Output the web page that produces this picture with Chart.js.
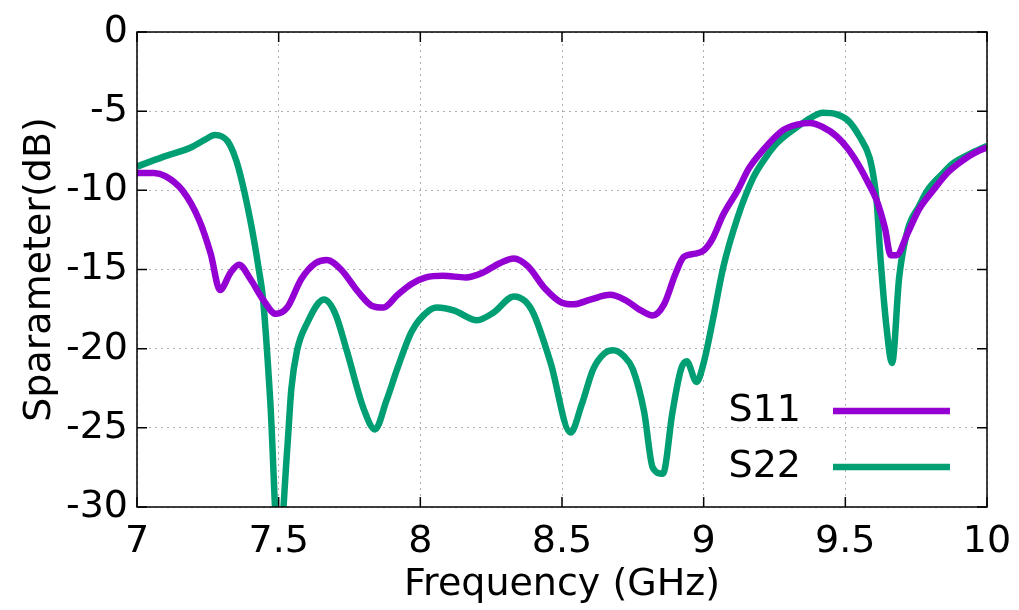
<!DOCTYPE html>
<html>
<head>
<meta charset="utf-8">
<script src="https://cdn.jsdelivr.net/npm/chart.js@4/dist/chart.umd.min.js"></script>
<style>
  html, body { margin: 0; padding: 0; background: #fff; }
  #wrap { width: 1019px; height: 610px; }
</style>
</head>
<body>
<div id="wrap"><canvas id="grafico" width="1019" height="610"></canvas></div>
<script>
// frequencies (GHz) and S-parameter values (dB)
const freqS11 = [7.00, 7.06, 7.10, 7.16, 7.22, 7.26, 7.293, 7.33, 7.36, 7.40, 7.445, 7.49, 7.53, 7.58, 7.63, 7.67,
  7.72, 7.78, 7.83, 7.87, 7.92, 7.97, 8.02, 8.08, 8.16, 8.22, 8.28, 8.33, 8.38, 8.44, 8.50, 8.54, 8.60, 8.67,
  8.72, 8.78, 8.82, 8.86, 8.90, 8.93, 8.97, 9.00, 9.03, 9.07, 9.12, 9.16, 9.21, 9.28, 9.33, 9.375, 9.42, 9.47,
  9.51, 9.55, 9.58, 9.61, 9.64, 9.66, 9.68, 9.72, 9.76, 9.81, 9.86, 9.915, 9.96, 10.00];
const s11 = [-8.9, -8.9, -9.1, -10.0, -11.9, -14.0, -16.3, -15.2, -14.7, -15.6, -16.9, -17.8, -17.4, -15.6, -14.6, -14.4,
  -15.0, -16.4, -17.3, -17.4, -16.6, -15.9, -15.5, -15.4, -15.5, -15.2, -14.6, -14.3, -14.8, -16.2, -17.1, -17.2, -16.9, -16.6,
  -16.9, -17.6, -17.9, -17.2, -15.3, -14.2, -14.0, -13.8, -13.1, -11.5, -10.0, -8.6, -7.45, -6.2, -5.85, -5.75, -6.0, -6.6,
  -7.4, -8.5, -9.5, -10.6, -12.4, -14.1, -14.1, -12.7, -11.2, -10.0, -8.9, -8.1, -7.6, -7.3];

const freqS22 = [7.00, 7.09, 7.19, 7.24, 7.275, 7.30, 7.32, 7.34, 7.36, 7.40, 7.43, 7.445, 7.47, 7.50, 7.53, 7.545,
  7.565, 7.60, 7.66, 7.70, 7.74, 7.80, 7.84, 7.88, 7.92, 7.97, 8.03, 8.06, 8.12, 8.20, 8.26, 8.33, 8.37, 8.40,
  8.46, 8.53, 8.57, 8.61, 8.65, 8.68, 8.72, 8.75, 8.79, 8.82, 8.856, 8.89, 8.92, 8.94, 8.975, 9.00, 9.03, 9.07,
  9.12, 9.175, 9.22, 9.26, 9.33, 9.38, 9.42, 9.47, 9.51, 9.55, 9.585, 9.60, 9.61, 9.625, 9.645, 9.665, 9.69, 9.72,
  9.76, 9.79, 9.84, 9.88, 9.94, 10.00];
const s22 = [-8.5, -7.9, -7.3, -6.8, -6.5, -6.6, -6.9, -7.6, -8.7, -11.9, -15.0, -16.9, -23.2, -33.0, -26.4, -22.5,
  -20.1, -18.4, -16.9, -17.8, -20.1, -23.8, -25.1, -23.3, -21.2, -18.9, -17.6, -17.4, -17.6, -18.2, -17.7, -16.7, -17.0, -17.8,
  -20.9, -25.3, -23.5, -21.3, -20.3, -20.1, -20.5, -21.3, -24.0, -27.5, -27.9, -24.0, -21.3, -20.8, -22.1, -20.9, -18.4, -14.8,
  -11.7, -9.2, -7.9, -7.0, -6.0, -5.4, -5.1, -5.2, -5.6, -6.6, -7.9, -9.2, -10.6, -14.5, -18.6, -20.9, -15.5, -12.5,
  -11.0, -10.0, -9.0, -8.3, -7.7, -7.2];

const xTicks = [7, 7.5, 8, 8.5, 9, 9.5, 10];
const yTicks = [0, -5, -10, -15, -20, -25, -30];

const FONT = 'DejaVu Sans';

// frame and inward tick marks on all four sides, gnuplot style
const marcoPlugin = {
  id: 'marco',
  afterDatasetsDraw(chart) {
    const { ctx, chartArea: a, scales } = chart;
    ctx.save();
    ctx.strokeStyle = '#000';
    ctx.lineWidth = 1.5;
    ctx.strokeRect(a.left, a.top, a.right - a.left, a.bottom - a.top);
    const len = 10;
    ctx.beginPath();
    xTicks.forEach(v => {
      const x = scales.x.getPixelForValue(v);
      ctx.moveTo(x, a.bottom); ctx.lineTo(x, a.bottom - len);
      ctx.moveTo(x, a.top); ctx.lineTo(x, a.top + len);
    });
    yTicks.forEach(v => {
      const y = scales.y.getPixelForValue(v);
      ctx.moveTo(a.left, y); ctx.lineTo(a.left + len, y);
      ctx.moveTo(a.right, y); ctx.lineTo(a.right - len, y);
    });
    ctx.stroke();
    ctx.restore();
  }
};

// legend inside the plot, text on the left, line sample on the right
const leyendaPlugin = {
  id: 'leyenda',
  afterDraw(chart) {
    const { ctx, chartArea: a } = chart;
    ctx.save();
    ctx.font = '38px "' + FONT + '"';
    ctx.textAlign = 'right';
    ctx.textBaseline = 'middle';
    chart.data.datasets.forEach((ds, i) => {
      const y = a.bottom - 96 + i * 56;
      ctx.fillStyle = '#000';
      ctx.fillText(ds.label, a.right - 186, y);
      ctx.strokeStyle = ds.borderColor;
      ctx.lineWidth = ds.borderWidth;
      ctx.beginPath();
      ctx.moveTo(a.right - 154, y);
      ctx.lineTo(a.right - 37, y);
      ctx.stroke();
    });
    ctx.restore();
  }
};

const ctx = document.getElementById('grafico').getContext('2d');
new Chart(ctx, {
  type: 'line',
  data: {
    datasets: [
      {
        label: 'S11',
        data: freqS11.map((f, i) => ({ x: f, y: s11[i] })),
        borderColor: '#9400d3',
        borderWidth: 6.5,
        pointRadius: 0,
        cubicInterpolationMode: 'monotone',
        fill: false
      },
      {
        label: 'S22',
        data: freqS22.map((f, i) => ({ x: f, y: s22[i] })),
        borderColor: '#009e73',
        borderWidth: 6.5,
        pointRadius: 0,
        cubicInterpolationMode: 'monotone',
        fill: false
      }
    ]
  },
  options: {
    responsive: false,
    animation: false,
    layout: { padding: { top: 32, right: 32, left: 0, bottom: 0 } },
    plugins: { legend: { display: false }, tooltip: { enabled: false } },
    scales: {
      x: {
        type: 'linear',
        min: 7, max: 10,
        afterBuildTicks: s => { s.ticks = xTicks.map(v => ({ value: v })); },
        afterFit: s => { s.height = 103; s.paddingRight = 20; s.paddingLeft = 0; },
        ticks: { color: '#000', padding: 12, font: { family: FONT, size: 38 }, maxRotation: 0, callback: v => String(v) },
        grid: { color: '#b0b0b0', lineWidth: 1, drawTicks: false },
        border: { display: false, dash: [2, 4] },
        title: { display: true, text: 'Frequency (GHz)', color: '#000', font: { family: FONT, size: 38 }, padding: { top: 0, bottom: 2 } }
      },
      y: {
        min: -30, max: 0,
        afterBuildTicks: s => { s.ticks = yTicks.map(v => ({ value: v })); },
        afterFit: s => { s.width = 137; },
        ticks: { color: '#000', padding: 9, font: { family: FONT, size: 38 }, callback: v => String(v) },
        grid: { color: '#b0b0b0', lineWidth: 1, drawTicks: false },
        border: { display: false, dash: [2, 4] },
        title: { display: true, text: 'Sparameter(dB)', color: '#000', font: { family: FONT, size: 38 }, padding: { top: 17, bottom: 0 } }
      }
    }
  },
  plugins: [marcoPlugin, leyendaPlugin]
});
</script>
</body>
</html>
